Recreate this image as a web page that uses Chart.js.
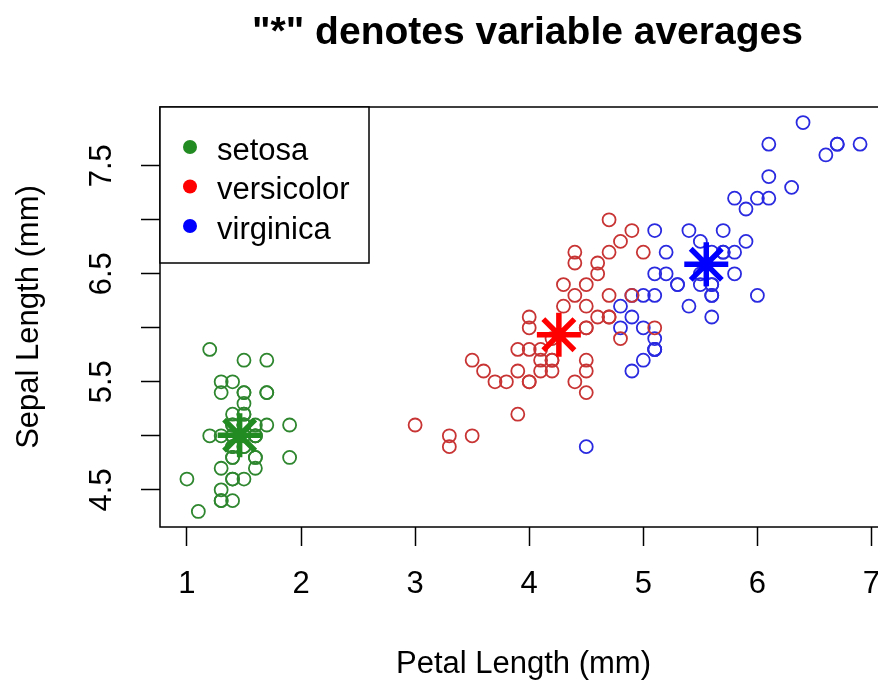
<!DOCTYPE html>
<html><head><meta charset="utf-8">
<script src="https://cdn.jsdelivr.net/npm/chart.js@4/dist/chart.umd.min.js"></script>
<style>html,body{margin:0;padding:0;background:#fff;overflow:hidden;width:878px;height:681px}canvas{display:block}</style>
</head><body>
<canvas id="c" width="890" height="681"></canvas>
<script>
// Iris data: petal length (x) and sepal length (y), by species
const setosaPetal = [1.4,1.4,1.3,1.5,1.4,1.7,1.4,1.5,1.4,1.5,1.5,1.6,1.4,1.1,1.2,1.5,1.3,1.4,1.7,1.5,1.7,1.5,1.0,1.7,1.9,1.6,1.6,1.5,1.4,1.6,1.6,1.5,1.5,1.4,1.5,1.2,1.3,1.4,1.3,1.5,1.3,1.3,1.3,1.6,1.9,1.4,1.6,1.4,1.5,1.4];
const setosaSepal = [5.1,4.9,4.7,4.6,5.0,5.4,4.6,5.0,4.4,4.9,5.4,4.8,4.8,4.3,5.8,5.7,5.4,5.1,5.7,5.1,5.4,5.1,4.6,5.1,4.8,5.0,5.0,5.2,5.2,4.7,4.8,5.4,5.2,5.5,4.9,5.0,5.5,4.9,4.4,5.1,5.0,4.5,4.4,5.0,5.1,4.8,5.1,4.6,5.3,5.0];
const versicolorPetal = [4.7,4.5,4.9,4.0,4.6,4.5,4.7,3.3,4.6,3.9,3.5,4.2,4.0,4.7,3.6,4.4,4.5,4.1,4.5,3.9,4.8,4.0,4.9,4.7,4.3,4.4,4.8,5.0,4.5,3.5,3.8,3.7,3.9,5.1,4.5,4.5,4.7,4.4,4.1,4.0,4.4,4.6,4.0,3.3,4.2,4.2,4.2,4.3,3.0,4.1];
const versicolorSepal = [7.0,6.4,6.9,5.5,6.5,5.7,6.3,4.9,6.6,5.2,5.0,5.9,6.0,6.1,5.6,6.7,5.6,5.8,6.2,5.6,5.9,6.1,6.3,6.1,6.4,6.6,6.8,6.7,6.0,5.7,5.5,5.5,5.8,6.0,5.4,6.0,6.7,6.3,5.6,5.5,5.5,6.1,5.8,5.0,5.6,5.7,5.7,6.2,5.1,5.7];
const virginicaPetal = [6.0,5.1,5.9,5.6,5.8,6.6,4.5,6.3,5.8,6.1,5.1,5.3,5.5,5.0,5.1,5.3,5.5,6.7,6.9,5.0,5.7,4.9,6.7,4.9,5.7,6.0,4.8,4.9,5.6,5.8,6.1,6.4,5.6,5.1,5.6,6.1,5.6,5.5,4.8,5.4,5.6,5.1,5.1,5.9,5.7,5.2,5.0,5.2,5.4,5.1];
const virginicaSepal = [6.3,5.8,7.1,6.3,6.5,7.6,4.9,7.3,6.7,7.2,6.5,6.4,6.8,5.7,5.8,6.4,6.5,7.7,7.7,6.0,6.9,5.6,7.7,6.3,6.7,7.2,6.2,6.1,6.4,7.2,7.4,7.9,6.4,6.3,6.1,7.7,6.3,6.4,6.0,6.9,6.7,6.9,5.8,6.8,6.7,6.7,6.3,6.5,6.2,5.9];

// Species averages (the "*" marks)
const species = ['setosa','versicolor','virginica'];
const meanPetal = [1.462, 4.260, 5.552];
const meanSepal = [5.006, 5.936, 6.588];

// Axis ticks
const xTicks = [1,2,3,4,5,6,7];
const yTicks = [4.5,5.0,5.5,6.0,6.5,7.0,7.5];
const yTickLabels = ['4.5','','5.5','','6.5','','7.5'];

const FONT = "'Liberation Sans', Arial, Helvetica, sans-serif";
const solidColors = ['#228B22','#FF0000','#0000FF'];
const circleColors = ['#2e862e','#c83434','#2a2ae0'];

const pts = (xs, ys) => xs.map((x,i)=>({x:x, y:ys[i]}));
const groups = [[setosaPetal,setosaSepal],[versicolorPetal,versicolorSepal],[virginicaPetal,virginicaSepal]];

const datasets = [];
groups.forEach((g,i)=>{
  datasets.push({
    label: species[i], data: pts(g[0],g[1]), order: 2,
    pointStyle:'circle', pointRadius:6.5, pointBorderWidth:1.8,
    borderColor: circleColors[i], backgroundColor:'rgba(0,0,0,0)', showLine:false
  });
});
species.forEach((s,i)=>{
  datasets.push({
    label: s + ' mean', data:[{x:meanPetal[i], y:meanSepal[i]}], order: 1,
    pointStyle:'star', pointRadius:22, pointBorderWidth:5.5,
    borderColor: solidColors[i], backgroundColor: solidColors[i], showLine:false
  });
});

const decor = {
  id:'decor',
  afterDraw(chart){
    const ctx = chart.ctx, a = chart.chartArea, ys = chart.scales.y;
    ctx.save();
    // box
    ctx.strokeStyle='#000'; ctx.lineWidth=1.5;
    ctx.strokeRect(a.left, a.top, a.right-a.left, a.bottom-a.top);
    // y tick labels (rotated, as in R)
    ctx.fillStyle='#000'; ctx.font = "31px " + FONT;
    ctx.textAlign='center'; ctx.textBaseline='middle';
    yTicks.forEach((v,i)=>{
      if(!yTickLabels[i]) return;
      ctx.save();
      ctx.translate(a.left-58, ys.getPixelForValue(v));
      ctx.rotate(-Math.PI/2);
      ctx.fillText(yTickLabels[i],0,0);
      ctx.restore();
    });
    // title
    ctx.font = "bold 39px " + FONT;
    ctx.fillText('"*" denotes variable averages', (a.left+a.right)/2+4, 33);
    // legend
    const lx = a.left, ly = a.top, lw = 209, lh = 156;
    ctx.fillStyle='#fff'; ctx.fillRect(lx,ly,lw,lh);
    ctx.strokeStyle='#000'; ctx.lineWidth=1.5; ctx.strokeRect(lx,ly,lw,lh);
    ctx.font = "31px " + FONT; ctx.textAlign='left';
    species.forEach((s,i)=>{
      const yy = ly + 40 + i*39.5;
      ctx.beginPath(); ctx.arc(lx+30, yy, 7, 0, Math.PI*2);
      ctx.fillStyle = solidColors[i]; ctx.fill();
      ctx.fillStyle='#000'; ctx.fillText(s, lx+57, yy+4);
    });
    ctx.restore();
  }
};

new Chart(document.getElementById('c'), {
  type:'scatter',
  data:{datasets},
  plugins:[decor],
  options:{
    responsive:false, animation:false, events:[],
    layout:{autoPadding:false, padding:{top:107, right:3, left:0, bottom:0}},
    plugins:{legend:{display:false}, tooltip:{enabled:false}, title:{display:false}},
    scales:{
      x:{
        type:'linear', position:'bottom', min:0.764, max:7.136,
        afterBuildTicks: s => { s.ticks = xTicks.map(v=>({value:v})); },
        afterFit: s => { s.height = 154; s.paddingLeft = 0; s.paddingRight = 0; },
        grid:{drawOnChartArea:false, drawTicks:true, tickLength:19, tickWidth:1.5, tickColor:'#000'},
        border:{display:false},
        ticks:{color:'#000', font:{family:FONT, size:31, lineHeight:1}, padding:23, maxRotation:0, autoSkip:false},
        title:{display:true, text:'Petal Length (mm)', color:'#000', font:{family:FONT, size:31, lineHeight:1}, padding:{top:0, bottom:1}}
      },
      y:{
        type:'linear', position:'left', min:4.156, max:8.044,
        afterBuildTicks: s => { s.ticks = yTicks.map(v=>({value:v})); },
        afterFit: s => { s.width = 160; s.paddingTop = 0; s.paddingBottom = 0; },
        grid:{drawOnChartArea:false, drawTicks:true, tickLength:19, tickWidth:1.5, tickColor:'#000'},
        border:{display:false},
        ticks:{display:false},
        title:{display:true, text:'Sepal Length (mm)', color:'#000', font:{family:FONT, size:31, lineHeight:1}, padding:{top:14, bottom:0}}
      }
    }
  }
});
</script>
</body></html>
